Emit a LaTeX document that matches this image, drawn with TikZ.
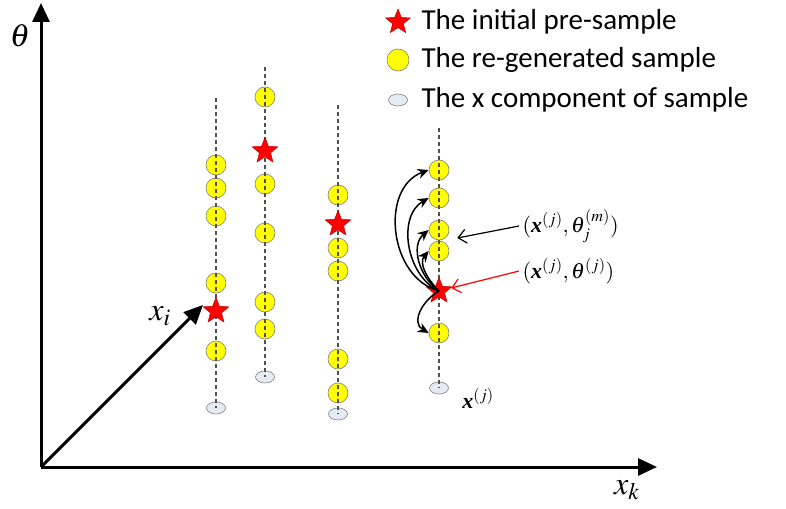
\documentclass[tikz,border=0pt]{standalone}
\usepackage{amsmath}
\usepackage{mathptmx}
\usepackage{fontspec}
\setmainfont{Carlito}
\newfontfamily\timesfont{Liberation Serif}
\newcommand{\boldx}{\text{\timesfont\bfseries\itshape x}}
\usetikzlibrary{shapes.geometric, arrows.meta, positioning, calc}
\definecolor{SampleYellow}{HTML}{FFFF00}
\definecolor{SampleEdge}{HTML}{7F7F7F}
\definecolor{StarRed}{HTML}{FF0000}
\definecolor{StarEdge}{HTML}{C00000}
\definecolor{CompFill}{HTML}{E6EAF4}
\definecolor{GuideGray}{HTML}{505050}
\tikzset{
    % Marker styles
    sample/.style={
        circle,
        draw=SampleEdge,
        fill=SampleYellow,
        line width=0.6pt,
        minimum size=20pt,
        inner sep=0pt
    },
    presample/.style={
        star,
        star points=5,
        star point ratio=2.3,
        draw=StarEdge,
        fill=StarRed,
        line width=0.5pt,
        minimum size=27pt,
        inner sep=0pt
    },
    xcomp/.style={
        ellipse,
        draw=SampleEdge,
        fill=CompFill,
        line width=0.6pt,
        minimum width=19pt,
        minimum height=12pt,
        inner sep=0pt
    },
    % Line styles
    guide/.style={
        draw=GuideGray,
        line width=1.1pt,
        dash pattern=on 4pt off 3pt
    },
    axis/.style={
        -{Triangle[length=19pt,width=17pt]},
        line width=3pt,
        draw=black
    },
    jump/.style={
        -{Stealth[length=11pt,width=10pt]},
        line width=1.5pt,
        draw=black
    },
    pointer/.style={
        -{Straight Barb[length=8pt,width=14pt]},
        line width=1.2pt
    },
    legendtext/.style={
        anchor=west,
        font=\fontsize{29}{34}\selectfont
    },
    axislabel/.style={
        font=\fontsize{32}{38}\selectfont
    },
    pointlabel/.style={
        font=\fontsize{22}{26}\selectfont
    }
}

\begin{document}
\begin{tikzpicture}[x=1pt, y=-1pt]
    \useasboundingbox (0,0) rectangle (786,508);

    % axes
    \coordinate (origin) at (41,467);
    \coordinate (thetaend) at (41,3);
    \coordinate (xkend) at (657,467);
    \coordinate (xiend) at (203,305);
    \draw[axis] (origin) -- (thetaend);
    \draw[axis] (origin) -- (xkend);
    \draw[axis] (origin) -- (xiend);
    \node[axislabel] (thetalab) at (20,36) {$\theta$};
    \node[axislabel] (xklab) at (627,490) {$x_k$};
    \node[axislabel] (xilab) at (160,316) {$x_i$};

    % column 1
    \node[sample] (a1) at (216,165) {};
    \node[sample] (a2) at (216,188) {};
    \node[sample] (a3) at (216,216) {};
    \node[sample] (a4) at (216,283) {};
    \node[sample] (a5) at (216,351) {};
    \node[xcomp] (ax) at (216,408) {};
    \coordinate (atop) at (216,98);
    \draw[guide] (atop) -- (ax.center);
    \node[presample] (as) at (216,311) {};

    % column 2
    \node[sample] (b1) at (265,97) {};
    \node[sample] (b2) at (265,184) {};
    \node[sample] (b3) at (265,233) {};
    \node[sample] (b4) at (265,302) {};
    \node[sample] (b5) at (265,329) {};
    \node[xcomp] (bx) at (265,377) {};
    \coordinate (btop) at (265,67);
    \draw[guide] (btop) -- (bx.center);
    \node[presample] (bs) at (265,151) {};

    % column 3
    \node[sample] (c1) at (338,195) {};
    \node[sample] (c2) at (338,248) {};
    \node[sample] (c3) at (338,271) {};
    \node[sample] (c4) at (338,359) {};
    \node[sample] (c5) at (338,393) {};
    \node[xcomp] (cx) at (338,414) {};
    \coordinate (ctop) at (338,105);
    \draw[guide] (ctop) -- (cx.center);
    \node[presample] (cs) at (338,224) {};

    % column 4
    \node[sample] (d1) at (439,170) {};
    \node[sample] (d2) at (439,198) {};
    \node[sample] (d3) at (439,230) {};
    \node[sample] (d4) at (439,251) {};
    \node[sample] (d5) at (439,333) {};
    \node[xcomp] (dx) at (439,388) {};
    \coordinate (dtop) at (439,128);
    \draw[guide] (dtop) -- (dx.center);
    \node[presample] (ds) at (439,291) {};

    % moves from the pre-sample
    \draw[jump] (ds.center) to[out=165, in=200, looseness=1.1] (d1.west);
    \draw[jump] (ds.center) to[out=155, in=210, looseness=1.0] (d2.west);
    \draw[jump] (ds.center) to[out=145, in=220, looseness=1.0] (d3.west);
    \draw[jump] (ds.center) to[out=135, in=230, looseness=1.0] (d4.west);
    \draw[jump] (ds.center) to[out=210, in=150, looseness=1.2] (d5.west);

    % point labels
    \node[pointlabel, anchor=west] (ptheta) at (519,226) {$(\boldx^{(j)},\theta_j^{(m)})$};
    \node[pointlabel, anchor=west] (pstar) at (519,271) {$(\boldx^{(j)},\theta^{(j)})$};
    \node[pointlabel] (pcomp) at (478,398) {$\boldx^{(j)}$};
    \draw[pointer, draw=black] (ptheta.west) -- ($(d3.east)+(8,8)$);
    \draw[pointer, draw=StarRed] (pstar.west) -- ($(ds.east)+(4,-3)$);

    % legend
    \node[presample, minimum size=26pt] (keystar) at (398,22) {};
    \node[legendtext] (keystartext) at (418,22) {The initial pre-sample};
    \node[sample, minimum size=22pt] (keysample) at (398,60) {};
    \node[legendtext] (keysampletext) at (418,60) {The re-generated sample};
    \node[xcomp] (keycomp) at (398,100) {};
    \node[legendtext] (keycomptext) at (418,100) {The x component of sample};
\end{tikzpicture}
\end{document}
